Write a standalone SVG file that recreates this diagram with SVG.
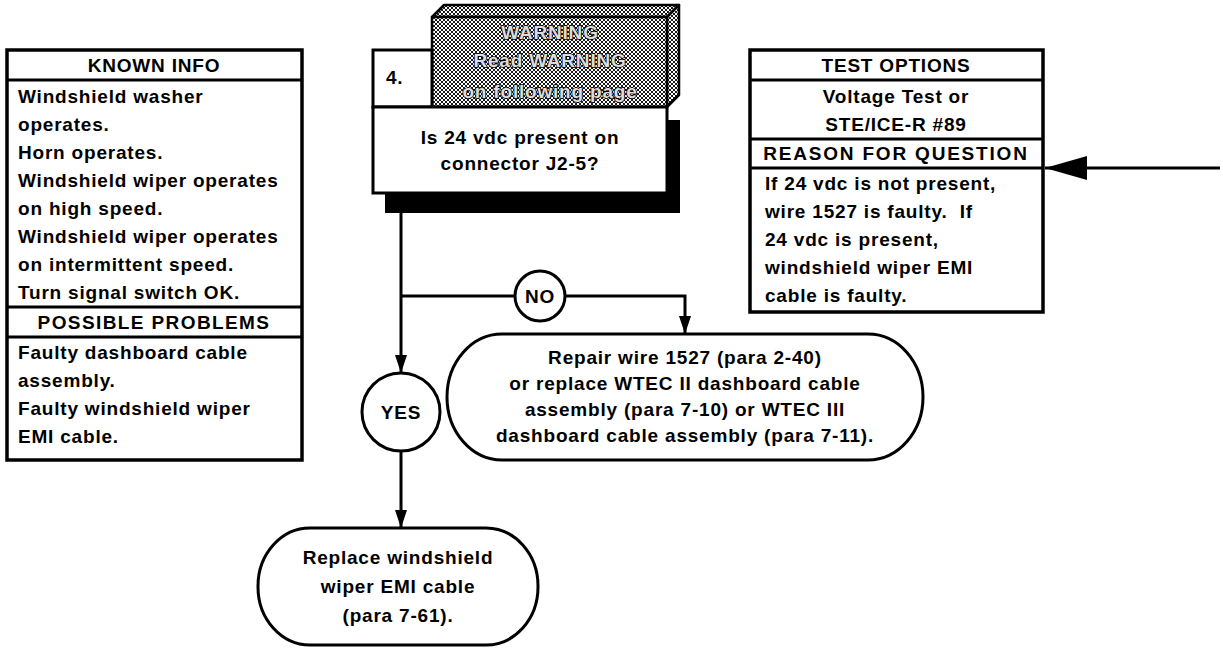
<svg xmlns="http://www.w3.org/2000/svg" width="1223" height="649" viewBox="0 0 1223 649">
  <style>
    text { font-family: "Liberation Sans", Arial, sans-serif; font-weight: bold; font-size: 19px; letter-spacing: 0.8px; fill: #000; }
    .c { text-anchor: middle; }
    .box { fill: #fff; stroke: #000; stroke-width: 3.5; }
    .sep { stroke: #000; stroke-width: 3; }
    .node { fill: #fff; stroke: #000; stroke-width: 3; }
    .wire { fill: none; stroke: #000; stroke-width: 3; }
    .warn { fill: #dcdcdc; stroke: #000; stroke-width: 1.6; paint-order: stroke; text-anchor: middle; }
    .hatch { fill: url(#hatch); stroke: #000; stroke-width: 2.5; stroke-linejoin: round; }
  </style>
  <defs>
    <pattern id="hatch" width="4" height="4" patternUnits="userSpaceOnUse">
      <rect width="4" height="4" fill="#fff"/>
      <path d="M0,0 L4,4 M4,0 L0,4" stroke="#000" stroke-width="0.9"/>
    </pattern>
    <marker id="head" markerUnits="userSpaceOnUse" markerWidth="18" markerHeight="12" refX="18" refY="6" orient="auto">
      <path d="M0,0 L18,6 L0,12 z" fill="#000"/>
    </marker>
    <marker id="bighead" markerUnits="userSpaceOnUse" markerWidth="42" markerHeight="24" refX="42" refY="12" orient="auto">
      <path d="M0,0 L42,12 L0,24 z" fill="#000"/>
    </marker>
  </defs>

  <rect width="1223" height="649" fill="#fff"/>

  <!-- Known info / possible problems panel -->
  <g id="known-info">
    <rect class="box" x="7" y="50" width="295" height="410"/>
    <line class="sep" x1="7" y1="80" x2="302" y2="80"/>
    <line class="sep" x1="7" y1="307" x2="302" y2="307"/>
    <line class="sep" x1="7" y1="337" x2="302" y2="337"/>
    <text class="c" x="154" y="72">KNOWN INFO</text>
    <text x="18" y="103">Windshield washer</text>
    <text x="18" y="131">operates.</text>
    <text x="18" y="159">Horn operates.</text>
    <text x="18" y="187">Windshield wiper operates</text>
    <text x="18" y="215">on high speed.</text>
    <text x="18" y="243">Windshield wiper operates</text>
    <text x="18" y="271">on intermittent speed.</text>
    <text x="18" y="299">Turn signal switch OK.</text>
    <text class="c" x="154" y="329" style="letter-spacing:1.4px">POSSIBLE PROBLEMS</text>
    <text x="18" y="359">Faulty dashboard cable</text>
    <text x="18" y="387">assembly.</text>
    <text x="18" y="415">Faulty windshield wiper</text>
    <text x="18" y="443">EMI cable.</text>
  </g>

  <!-- Test options / reason for question panel -->
  <g id="test-options">
    <rect class="box" x="750" y="50" width="293" height="262"/>
    <line class="sep" x1="750" y1="80" x2="1043" y2="80"/>
    <line class="sep" x1="750" y1="139" x2="1043" y2="139"/>
    <line class="sep" x1="750" y1="168" x2="1043" y2="168"/>
    <text class="c" x="896" y="72">TEST OPTIONS</text>
    <text class="c" x="896" y="103">Voltage Test or</text>
    <text class="c" x="896" y="131">STE/ICE-R #89</text>
    <text class="c" x="896" y="160" style="letter-spacing:1.8px">REASON FOR QUESTION</text>
    <text x="765" y="190">If 24 vdc is not present,</text>
    <text x="765" y="218" style="white-space:pre">wire 1527 is faulty.  If</text>
    <text x="765" y="246">24 vdc is present,</text>
    <text x="765" y="274">windshield wiper EMI</text>
    <text x="765" y="302">cable is faulty.</text>
  </g>

  <!-- Step 4 question with warning banner -->
  <g id="step-4">
    <rect x="385" y="120" width="295" height="93" fill="#000"/>
    <polygon class="hatch" points="432,17 444,5 679,5 667,17"/>
    <polygon class="hatch" points="667,17 679,5 679,95 667,107"/>
    <rect class="hatch" x="432" y="17" width="235" height="90"/>
    <text class="warn" x="550" y="39">WARNING</text>
    <text class="warn" x="550" y="67">Read WARNING</text>
    <text class="warn" x="550" y="98">on following page</text>
    <rect class="node" x="373" y="50" width="59" height="57"/>
    <text x="386" y="84">4.</text>
    <rect class="node" x="373" y="107" width="294" height="86"/>
    <text class="c" x="520" y="144">Is 24 vdc present on</text>
    <text class="c" x="520" y="170">connector J2-5?</text>
  </g>

  <!-- Decision labels -->
  <g id="no">
    <circle class="node" cx="540" cy="296" r="25"/>
    <text class="c" x="540" y="303">NO</text>
  </g>
  <g id="yes">
    <circle class="node" cx="401" cy="412" r="39"/>
    <text class="c" x="401" y="419">YES</text>
  </g>

  <!-- Outcomes -->
  <g id="repair">
    <rect class="node" x="447" y="334" width="476" height="126" rx="55" ry="63"/>
    <text class="c" x="685" y="364">Repair wire 1527 (para 2-40)</text>
    <text class="c" x="685" y="390">or replace WTEC II dashboard cable</text>
    <text class="c" x="685" y="416">assembly (para 7-10) or WTEC III</text>
    <text class="c" x="685" y="442">dashboard cable assembly (para 7-11).</text>
  </g>
  <g id="replace">
    <rect class="node" x="258" y="528" width="280" height="117" rx="52" ry="58"/>
    <text class="c" x="398" y="564">Replace windshield</text>
    <text class="c" x="398" y="593">wiper EMI cable</text>
    <text class="c" x="398" y="622">(para 7-61).</text>
  </g>

  <!-- Connectors -->
  <g id="connectors">
    <line class="wire" x1="401" y1="213" x2="401" y2="373" marker-end="url(#head)"/>
    <line class="wire" x1="401" y1="296" x2="515" y2="296"/>
    <polyline class="wire" points="565,296 685,296 685,334" marker-end="url(#head)"/>
    <line class="wire" x1="401" y1="451" x2="401" y2="528" marker-end="url(#head)"/>
    <line class="wire" x1="1220" y1="168" x2="1045" y2="168" stroke-width="5" marker-end="url(#bighead)"/>
  </g>
</svg>
